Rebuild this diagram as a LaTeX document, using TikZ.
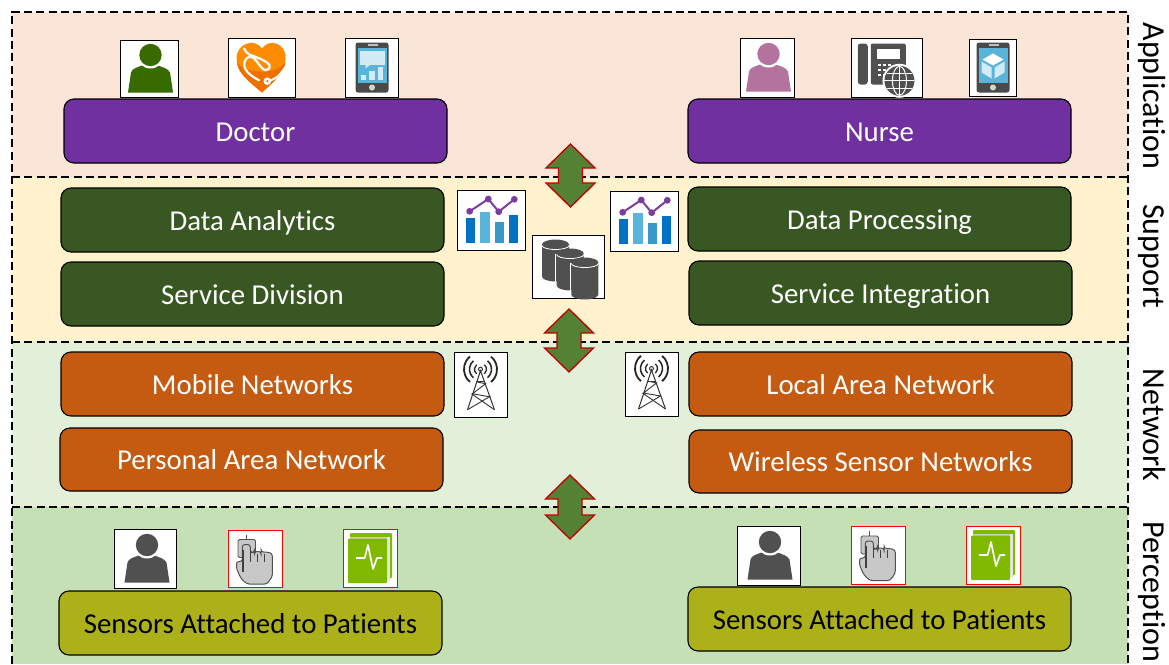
\documentclass[tikz,border=0pt]{standalone}
\usepackage{fontspec}
\setmainfont[RawFeature=-liga;-clig]{Carlito}
\definecolor{bandA}{HTML}{FBE5D6}
\definecolor{bandB}{HTML}{FFF2CC}
\definecolor{bandC}{HTML}{E2F0D9}
\definecolor{bandD}{HTML}{C5E0B4}
\definecolor{purpleBox}{HTML}{7030A0}
\definecolor{greenBox}{HTML}{385723}
\definecolor{orangeBox}{HTML}{C55A11}
\definecolor{oliveBox}{HTML}{ACB11A}
\definecolor{arrowFill}{HTML}{548235}
\definecolor{arrowLine}{HTML}{C00000}
\definecolor{iconGrey}{HTML}{505050}
\definecolor{screenBlue}{HTML}{59B4D9}
\definecolor{paleBlue}{HTML}{D2EBF5}
\definecolor{barBlue}{HTML}{0072C6}
\definecolor{barMid}{HTML}{3999C6}
\definecolor{linePurple}{HTML}{7A3E9D}
\definecolor{bookGreen}{HTML}{7FBA00}
\definecolor{handGrey}{HTML}{C8C8C8}
\definecolor{heartA}{HTML}{FF8C00}
\definecolor{heartB}{HTML}{EC7000}
\definecolor{doctorGreen}{HTML}{376B00}
\definecolor{nursePink}{HTML}{B4739F}
\newcommand{\layerbox}[7]{\node[layerbox,fill=#6,minimum width={(#4-#2)*1pt},minimum height={(#5-#3)*1pt}] (#1) at ({(#2+#4)/2},{(#3+#5)/2}) {#7};}
\newcommand{\iconbox}[6][black]{\node[iconframe,draw=#1,minimum width={(#5-#3)*1pt},minimum height={(#6-#4)*1pt}] (#2) at ({(#3+#5)/2},{(#4+#6)/2}) {};}
\tikzset{
  x=1pt,y=-1pt,
  layerbox/.style={draw=black,line width=1.1pt,rounded corners=10pt,text=white,inner sep=0pt,text height=22pt,text depth=2pt,font=\fontsize{28.8}{30}\selectfont},
  iconframe/.style={fill=white,line width=1pt,inner sep=0pt},
  dashline/.style={draw=black,line width=1.5pt,dash pattern=on 8pt off 4.3pt},
  sidelabel/.style={rotate=-90,anchor=base,font=\fontsize{32}{34}\selectfont,text=black,inner sep=0pt},
  updown/.style={fill=arrowFill,draw=arrowLine,line width=1.3pt,line join=miter},
  pics/person/.style={code={
    \fill[#1] (-21,24) -- (-18,4) .. controls (-17,0) and (-12,-1) .. (-7,-3) -- (9,-3) .. controls (14,-1) and (19,0) .. (21,4) -- (24,24) -- cycle;
    \fill[white] (1.5,-13.5) circle[radius=13.5];
    \fill[#1] (1.5,-13.5) circle[radius=11.2];
  }},
  pics/heart/.style={code={
    \fill[heartA] (0.5,25) .. controls (-10,16) and (-25,6) .. (-25,-9) .. controls (-25,-24) and (-7,-30) .. (0.5,-19) .. controls (8,-30) and (25,-24) .. (24,-9) .. controls (24,6) and (10,16) .. (0.5,25) -- cycle;
    \fill[heartB] (0.5,25) .. controls (-10,16) and (-24,6) .. (-24.5,-5) .. controls (-18,3) and (-8,4) .. (0,4) .. controls (10,5) and (18,1) .. (24,-5) .. controls (23,6) and (10,16) .. (0.5,25) -- cycle;
    \draw[white,line width=2.2pt,line cap=round] (-17.5,-19) .. controls (-15,-13) and (-10,-12) .. (-6,-10.7) .. controls (0,-8) and (6,-6) .. (8,-2.3) .. controls (9,1) and (6,3) .. (4,2.7) .. controls (-2,1) and (-5,-10) .. (-11,-10.7) .. controls (-18,-10) and (-18,-2) .. (-16.5,1) .. controls (-14,6) and (-8,10) .. (-2.5,12.7);
    \draw[white,line width=2pt] (5.8,13.7) .. controls (11,13) and (15,10) .. (17.5,7.7) .. controls (20,5) and (23,1) .. (25,-2.3);
    \fill[white] (5.8,13.7) circle[radius=3.8];
    \fill[heartB] (5.8,13.7) circle[radius=1.2];
  }},
  pics/phoneshell/.style={code={
    \fill[iconGrey!92!black,rounded corners=2.5pt] (-16,-25) rectangle (17,25);
    \fill[screenBlue] (-14,-20) rectangle (15,15);
    \fill[white!75!black] (-4,-23.5) rectangle (6,-22);
    \fill[white!85!black] (0.5,20) circle[radius=3];
    \fill[yellow!70!green!70!white] (0.5,20) circle[radius=1.5];
  }},
  pics/phonechart/.style={code={
    \pic {phoneshell};
    \fill[paleBlue] (-12,-17) rectangle (13,-3);
    \fill[paleBlue] (-6,-3) -- (-6,1) -- (-1,-3) -- cycle;
    \fill[paleBlue] (-11,7) rectangle (-6,12);
    \fill[paleBlue] (-3,3) rectangle (3,12);
    \fill[paleBlue] (6,-1) rectangle (11,12);
  }},
  pics/phonecube/.style={code={
    \pic {phoneshell};
    \fill[white] (0.5,-14) -- (11,-8) -- (0.5,-2) -- (-10,-8) -- cycle;
    \fill[paleBlue] (-11,-6) -- (-1,0) -- (-1,11) -- (-11,5) -- cycle;
    \fill[paleBlue] (12,-6) -- (2,0) -- (2,11) -- (12,5) -- cycle;
  }},
  pics/deskphone/.style={code={
    \fill[iconGrey,rounded corners=3pt] (-29,-24) rectangle (-19,17);
    \fill[iconGrey,rounded corners=2pt] (-16,-24) rectangle (19,17);
    \fill[white] (-10,-19) rectangle (13,-9);
    \foreach \u in {-9,-4,1} \foreach \v in {-4,1,6} \fill[white] (\u,\v) rectangle ++(3.5,2.5);
    \fill[white] (12.7,13.3) circle[radius=17];
    \fill[iconGrey] (12.7,13.3) circle[radius=15];
    \begin{scope}[white,line width=1pt]
      \draw (12.7,13.3) ellipse[x radius=7,y radius=14.5];
      \draw (12.7,-1.7) -- (12.7,28.3);
      \draw (-2.3,13.3) -- (27.7,13.3);
      \draw (0,5.5) -- (25.4,5.5);
      \draw (0,21) -- (25.4,21);
    \end{scope}
  }},
  pics/chart/.style={code={
    \fill[barBlue] (-24.7,-1.7) rectangle (-15.7,22.7);
    \fill[screenBlue] (-10.7,-8.3) rectangle (-1.3,22.7);
    \fill[barMid] (3.7,2.3) rectangle (13,22.7);
    \fill[barBlue] (17.7,-5) rectangle (27,22.7);
    \draw[linePurple,line width=2pt] (-21.3,-8.7) -- (-2.7,-21) -- (7.7,-8.3) -- (23.3,-20.7);
    \foreach \p in {(-21.3,-8.7),(-2.7,-21),(7.7,-8.3),(23.3,-20.7)} \fill[linePurple] \p circle[radius=3.4];
  }},
  pics/cyl/.style={code={
    \path[fill=iconGrey] (-13.5,0) -- (-13.5,32) arc[start angle=180,end angle=360,x radius=13.5,y radius=-5] -- (13.5,0) arc[start angle=0,end angle=180,x radius=13.5,y radius=-5] -- cycle;
    \draw[white,line width=1pt] (-14.5,0) -- (-14.5,33);
    \draw[white,line width=.8pt] (-13.5,1) arc[start angle=180,end angle=360,x radius=13.5,y radius=-4];
  }},
  pics/database/.style={code={
    \pic at (-13,-22) {cyl};
    \pic at (1.7,-13) {cyl};
    \pic at (16.3,-4) {cyl};
  }},
  pics/tower/.style={code={
    \draw[black!80,line width=1pt] (-13,25) -- (0,-14) -- (14,25);
    \draw[black!80,line width=.9pt] (-4,-3) -- (5,-1) -- (-8,9) -- (9,12) -- (-13,25);
    \draw[black!80,line width=.9pt] (-4,-3) -- (4,-3);
    \draw[black!80,line width=.9pt] (-9,9) -- (14,25);
    \draw[black!80,line width=1pt] (0,-15.5) circle[radius=2];
    \foreach \r/\w in {6/1.3,11/1.5,16.5/1.8}{
      \draw[black!85,line width=\w pt] (0,-15.5) ++(-50:\r) arc[start angle=-50,end angle=50,radius=\r];
      \draw[black!85,line width=\w pt] (0,-15.5) ++(130:\r) arc[start angle=130,end angle=230,radius=\r];
    }
  }},
  pics/touch/.style={code={
    \draw[iconGrey,line width=.8pt,fill=handGrey,rounded corners=1.5pt] (-17,-19) rectangle (0.5,-1);
    \draw[iconGrey,line width=.8pt] (-8.5,-24) -- (-8.5,-19);
    \draw[iconGrey,line width=1pt,fill=handGrey,rounded corners=2.5pt] (-8,25.5) -- (-14,20) -- (-18.5,10) -- (-18.5,3) -- (-12.7,3) -- (-12.7,-14) -- (-4.7,-14) -- (-4.7,-6) -- (-0.5,-6) -- (-0.5,-7) -- (6,-7) -- (6,-6.5) -- (12,-6.5) -- (17.3,-5) -- (17.3,18) -- (12,25.5) -- cycle;
    \draw[iconGrey!80!black,line width=1.3pt] (-12,-9) -- (-12,13);
    \draw[iconGrey!80!black,line width=1.3pt] (-4.7,-8) -- (-4.7,3);
    \draw[iconGrey!80!black,line width=1.3pt] (2.6,-5) -- (2.6,3);
    \draw[iconGrey!80!black,line width=1.3pt] (9.7,-5) -- (9.7,3);
  }},
  pics/book/.style={code={
    \fill[bookGreen,rounded corners=1pt] (-20,-25) rectangle (22,20);
    \fill[white!80!black] (-20,-21.5) rectangle (17,-19.5);
    \fill[white!90!black] (17,-21.5) rectangle (19.5,22);
    \fill[bookGreen,rounded corners=1pt] (-22,-19.5) rectangle (17,25);
    \draw[white,line width=1.7pt,line join=round] (-14,0) -- (-5.3,0) -- (-2,-13) -- (3,11) -- (7,0) -- (12,0);
  }}
}
\begin{document}
\begin{tikzpicture}
\useasboundingbox (0,0) rectangle (1169,664);
\fill[white] (0,0) rectangle (1169,664);
% bands
\fill[bandA] (12,12) rectangle (1128,177);
\fill[bandB] (12,177) rectangle (1128,342);
\fill[bandC] (12,342) rectangle (1128,507);
\fill[bandD] (12,507) rectangle (1128,664);
\draw[dashline] (12,664) -- (12,12) -- (1128,12) -- (1128,664);
\draw[dashline] (12,177) -- (1128,177);
\draw[dashline] (12,342) -- (1128,342);
\draw[dashline] (12,507) -- (1128,507);
% layer boxes
\layerbox{doctor}{64}{99}{447}{163}{purpleBox}{Doctor}
\layerbox{nurse}{688}{99}{1071}{163}{purpleBox}{Nurse}
\layerbox{analytics}{61}{188}{444}{252}{greenBox}{Data Analytics}
\layerbox{processing}{688}{187}{1071}{251}{greenBox}{Data Processing}
\layerbox{division}{61}{262}{444}{326}{greenBox}{Service Division}
\layerbox{integration}{689}{261}{1072}{325}{greenBox}{Service Integration}
\layerbox{mobile}{61}{352}{444}{416}{orangeBox}{Mobile Networks}
\layerbox{lan}{689}{352}{1072}{416}{orangeBox}{Local Area Network}
\layerbox{pan}{60}{428}{443}{491}{orangeBox}{Personal Area Network}
\layerbox{wsn}{689}{430}{1072}{493}{orangeBox}{Wireless Sensor Networks}
\layerbox{sensorsL}{59}{591}{442}{655}{oliveBox}{\color{black}Sensors Attached to Patients}
\layerbox{sensorsR}{688}{587}{1071}{651}{oliveBox}{\color{black}Sensors Attached to Patients}
% icon frames and glyphs
\iconbox{docperson}{120}{40}{178}{97}
\pic at (docperson) {person=doctorGreen};
\iconbox{docheart}{228}{38}{295}{97}
\pic at (docheart) {heart};
\iconbox{docphone}{345}{38}{398}{97}
\pic at (docphone) {phonechart};
\iconbox{nurseperson}{740}{38}{794}{97}
\pic at (nurseperson) {person=nursePink};
\iconbox{nursephone}{851}{38}{922.5}{97}
\pic at (nursephone) {deskphone};
\iconbox{nursecube}{969}{39}{1016}{96}
\pic at (nursecube) {phonecube};
\iconbox{chartL}{457}{190}{525}{250}
\pic at (chartL) {chart};
\iconbox{chartR}{610}{191}{678}{251}
\pic at (chartR) {chart};
\iconbox{db}{532.5}{235}{604.5}{298}
\pic at (db) {database};
\iconbox{towerL}{454}{352.5}{507}{417}
\pic at (towerL) {tower};
\iconbox{towerR}{625}{352}{678}{416}
\pic at (towerR) {tower};
\iconbox{patientL}{114.5}{529}{176.5}{588}
\pic at (patientL) {person=iconGrey};
\iconbox[red]{touchL}{228}{530}{282}{587}
\pic at (touchL) {touch};
\iconbox[red]{bookL}{343}{529}{397}{587}
\pic at (bookL) {book};
\iconbox{patientR}{737}{526}{800}{585}
\pic at (patientR) {person=iconGrey};
\iconbox[red]{touchR}{851}{526}{905}{584}
\pic at (touchR) {touch};
\iconbox[red]{bookR}{966}{526}{1020}{584}
\pic at (bookR) {book};
% double arrows
\draw[updown] (570.5,144) -- (595,168) -- (582.5,168) -- (582.5,183) -- (595,183) -- (570.5,207) -- (546,183) -- (558.5,183) -- (558.5,168) -- (546,168) -- cycle;
\draw[updown] (569,309) -- (593.5,333) -- (581,333) -- (581,348) -- (593.5,348) -- (569,372) -- (544.5,348) -- (557,348) -- (557,333) -- (544.5,333) -- cycle;
\draw[updown] (570,475) -- (594.5,499) -- (582,499) -- (582,515) -- (594.5,515) -- (570,539) -- (545.5,515) -- (558,515) -- (558,499) -- (545.5,499) -- cycle;
% side labels
\node[sidelabel] (appl) at (1143,96) {Application};
\node[sidelabel] (supp) at (1143,256) {Support};
\node[sidelabel] (netw) at (1143,425) {Network};
\node[sidelabel] (perc) at (1143,592) {Perception};
\end{tikzpicture}
\end{document}
